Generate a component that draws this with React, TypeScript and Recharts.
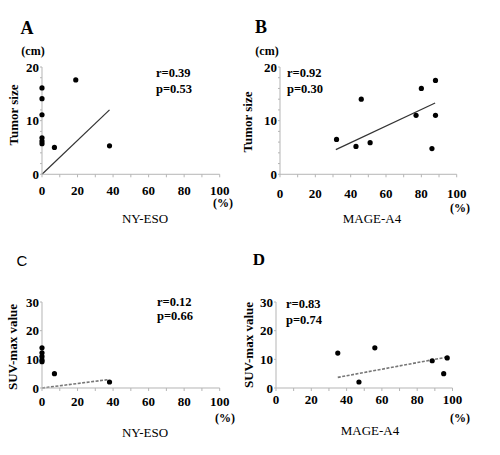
import React from "react"
import { ReferenceLine, Scatter, ScatterChart, XAxis, YAxis } from "recharts"

// panel A / C: NY-ESO expression (%), panel B / D: MAGE-A4 expression (%)
const nyEsoSizeX = [0, 0, 0, 0, 0, 0, 7, 19, 38]
const nyEsoSizeY = [16.1, 14.1, 11.1, 6.8, 6.2, 5.7, 5.0, 17.6, 5.3]
const nyEsoSizeFit = [{ x: 0, y: 0 }, { x: 38, y: 12 }]

const mageSizeX = [32, 43, 46, 51, 77, 80, 86, 88, 88]
const mageSizeY = [6.5, 5.2, 14.0, 5.9, 11.0, 16.0, 4.8, 17.5, 11.0]
const mageSizeFit = [{ x: 31.6, y: 4.6 }, { x: 87.8, y: 13.3 }]

const nyEsoSuvX = [0, 0, 0, 0, 0, 7, 38]
const nyEsoSuvY = [14.0, 12.3, 11.0, 9.8, 9.2, 5.0, 2.1]
const nyEsoSuvFit = [{ x: 0, y: 0 }, { x: 37, y: 2.9 }]

const mageSuvX = [35, 47, 56, 88.5, 95, 97]
const mageSuvY = [12.2, 2.1, 14.0, 9.5, 5.0, 10.5]
const mageSuvFit = [{ x: 35, y: 3.7 }, { x: 97, y: 10.8 }]

const xTicks = [0, 10, 20, 30, 40, 50, 60, 70, 80, 90, 100]
const sizeTicks = [0, 2, 4, 6, 8, 10, 12, 14, 16, 18, 20]
const suvTicks = [0, 10, 20, 30]

const serif = "'Liberation Serif', 'Times New Roman', serif"
const axisGrey = "#b5b5b5"

const Dot = (props: any) => <circle cx={props.cx} cy={props.cy} r={2.6} fill="#000" />

type PanelProps = {
  xs: number[]
  ys: number[]
  fit: { x: number; y: number }[]
  yMax: number
  yTicks: number[]
  yLabelEvery: number
  plot: { left: number; top: number; right: number; bottom: number }
  xTickGap: number
  dashed?: boolean
}

function Panel({ xs, ys, fit, yMax, yTicks, yLabelEvery, plot, xTickGap, dashed }: PanelProps) {
  const data = xs.map((x, i) => ({ x, y: ys[i] }))
  const padL = 40
  const padT = 10
  const padR = 20
  const padB = 30
  const width = plot.right - plot.left + padL + padR
  const height = plot.bottom - plot.top + padT + padB
  const tickStyle = { fontFamily: serif, fontSize: 13, fontWeight: 700, fill: "#000" }
  return (
    <div style={{ position: "absolute", left: plot.left - padL, top: plot.top - padT }}>
      <ScatterChart width={width} height={height} margin={{ top: padT, right: padR, bottom: 0, left: 0 }}>
        <XAxis
          type="number"
          dataKey="x"
          domain={[0, 100]}
          ticks={xTicks}
          interval={0}
          height={padB}
          stroke={axisGrey}
          tickSize={3}
          tickMargin={xTickGap}
          tick={tickStyle}
          tickFormatter={(v: number) => (v % 20 === 0 ? String(v) : "")}
        />
        <YAxis
          type="number"
          dataKey="y"
          domain={[0, yMax]}
          ticks={yTicks}
          interval={0}
          width={padL}
          stroke={axisGrey}
          tickSize={2}
          tickMargin={1}
          tick={tickStyle}
          tickFormatter={(v: number) => (v % yLabelEvery === 0 ? String(v) : "")}
        />
        <ReferenceLine
          segment={fit}
          stroke={dashed ? "#777" : "#333"}
          strokeWidth={dashed ? 1.6 : 1.2}
          strokeDasharray={dashed ? "3 1.5" : undefined}
        />
        <Scatter data={data} shape={Dot} isAnimationActive={false} />
      </ScatterChart>
    </div>
  )
}

function Txt({ x, y, children, size = 12, weight = 700, family = serif, anchor = "center", rotate = false }: any) {
  const tx = anchor === "center" ? "-50%" : "0"
  return (
    <div
      style={{
        position: "absolute",
        left: x,
        top: y,
        transform: `translate(${tx}, -50%)${rotate ? " rotate(-90deg)" : ""}`,
        fontFamily: family,
        fontSize: size,
        fontWeight: weight,
        lineHeight: 1,
        whiteSpace: "nowrap",
        color: "#000",
      }}
    >
      {children}
    </div>
  )
}

export default function App() {
  return (
    <div style={{ position: "absolute", left: 0, top: 0, width: 500, height: 455, background: "#fff", overflow: "hidden" }}>
      {/* A */}
      <Panel
        xs={nyEsoSizeX}
        ys={nyEsoSizeY}
        fit={nyEsoSizeFit}
        yMax={20}
        yTicks={sizeTicks}
        yLabelEvery={10}
        plot={{ left: 42.3, top: 66.7, right: 220, bottom: 174 }}
        xTickGap={8}
      />
      <Txt x={27} y={28} size={18}>A</Txt>
      <Txt x={33} y={51}>(cm)</Txt>
      <Txt x={13} y={115} size={13} rotate>Tumor size</Txt>
      <Txt x={156} y={73} anchor="left" size={12.5}>r=0.39</Txt>
      <Txt x={156} y={89} anchor="left" size={12.5}>p=0.53</Txt>
      <Txt x={223} y={203}>(%)</Txt>
      <Txt x={145} y={218} size={13} weight={400}>NY-ESO</Txt>

      {/* B */}
      <Panel
        xs={mageSizeX}
        ys={mageSizeY}
        fit={mageSizeFit}
        yMax={20}
        yTicks={sizeTicks}
        yLabelEvery={10}
        plot={{ left: 280, top: 66.7, right: 456.7, bottom: 174 }}
        xTickGap={11}
      />
      <Txt x={261} y={27} size={18}>B</Txt>
      <Txt x={267} y={51}>(cm)</Txt>
      <Txt x={247} y={122} size={13} rotate>Tumor size</Txt>
      <Txt x={287} y={73} anchor="left" size={12.5}>r=0.92</Txt>
      <Txt x={287} y={89} anchor="left" size={12.5}>p=0.30</Txt>
      <Txt x={460} y={208}>(%)</Txt>
      <Txt x={372} y={218} size={13} weight={400}>MAGE-A4</Txt>

      {/* C */}
      <Panel
        xs={nyEsoSuvX}
        ys={nyEsoSuvY}
        fit={nyEsoSuvFit}
        yMax={30}
        yTicks={suvTicks}
        yLabelEvery={10}
        plot={{ left: 42.3, top: 302, right: 220, bottom: 388 }}
        xTickGap={6}
        dashed
      />
      <Txt x={22} y={260} size={15} weight={400} family="'Liberation Sans', Arial, sans-serif">C</Txt>
      <Txt x={12} y={347} size={13} rotate>SUV-max value</Txt>
      <Txt x={157} y={302} anchor="left" size={12.5}>r=0.12</Txt>
      <Txt x={157} y={316} anchor="left" size={12.5}>p=0.66</Txt>
      <Txt x={225} y={418}>(%)</Txt>
      <Txt x={145} y={432} size={13} weight={400}>NY-ESO</Txt>

      {/* D */}
      <Panel
        xs={mageSuvX}
        ys={mageSuvY}
        fit={mageSuvFit}
        yMax={30}
        yTicks={suvTicks}
        yLabelEvery={10}
        plot={{ left: 276, top: 302, right: 452.5, bottom: 388 }}
        xTickGap={4}
        dashed
      />
      <Txt x={259} y={259} size={17}>D</Txt>
      <Txt x={248} y={345} size={13} rotate>SUV-max value</Txt>
      <Txt x={286} y={304} anchor="left" size={12.5}>r=0.83</Txt>
      <Txt x={286} y={320} anchor="left" size={12.5}>p=0.74</Txt>
      <Txt x={460} y={418}>(%)</Txt>
      <Txt x={370} y={430} size={13} weight={400}>MAGE-A4</Txt>
    </div>
  )
}
